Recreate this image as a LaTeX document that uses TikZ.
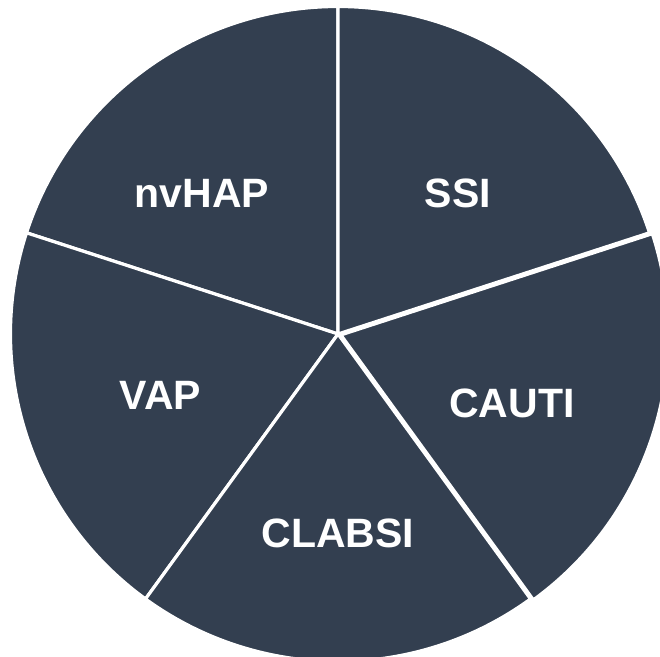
\documentclass[tikz,border=0pt]{standalone}
\usepackage{fontspec}
\setmainfont{Liberation Sans}
\usetikzlibrary{calc}
\definecolor{slicefill}{HTML}{333F50}
\begin{document}
\begin{tikzpicture}[x=1pt,y=1pt,
  slice/.style={fill=slicefill,draw=white,line width=3.2pt,line join=miter},
  lbl/.style={text=white,font=\fontsize{41}{49}\selectfont\bfseries,inner sep=0pt}]
\useasboundingbox (0,0) rectangle (660,656);
\clip (0,0) rectangle (660,656);
\coordinate (c) at (338,322);
% nvHAP
\filldraw[slice] (c) -- ++(90:327.5pt) arc[start angle=90,end angle=162,radius=327.5pt] -- cycle;
% VAP
\filldraw[slice] (c) -- ++(162:327.5pt) arc[start angle=162,end angle=234,radius=327.5pt] -- cycle;
% CLABSI
\filldraw[slice] (c) -- ++(234:327.5pt) arc[start angle=234,end angle=306,radius=327.5pt] -- cycle;
% SSI
\filldraw[slice] (c) -- ++(18:327.5pt) arc[start angle=18,end angle=90,radius=327.5pt] -- cycle;
% CAUTI (slightly pulled out)
\coordinate (c2) at ($(c)+(-18:3pt)$);
\filldraw[slice] (c2) -- ++(-54:327.5pt) arc[start angle=-54,end angle=18,radius=327.5pt] -- cycle;
\node[lbl] (nvhap) at (202,463) {nvHAP};
\node[lbl] (ssi) at (458,463) {SSI};
\node[lbl] (vap) at (160.5,261) {VAP};
\node[lbl] (cauti) at (512,253) {CAUTI};
\node[lbl] (clabsi) at (338,123) {CLABSI};
\end{tikzpicture}
\end{document}
